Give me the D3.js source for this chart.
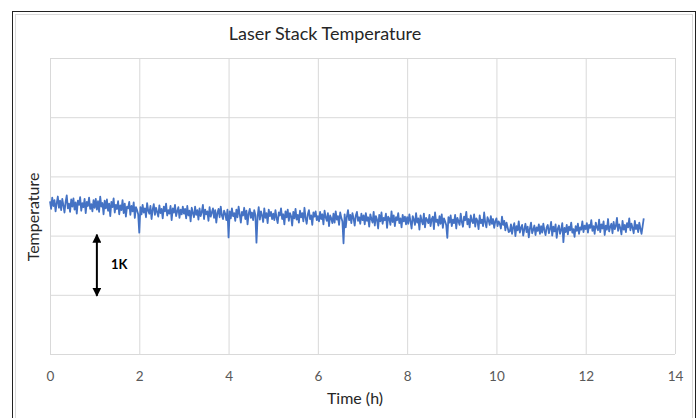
<!DOCTYPE html>
<html>
<head>
<meta charset="utf-8">
<script src="https://cdn.jsdelivr.net/npm/d3@7/dist/d3.min.js"></script>
<style>
  html, body { margin: 0; padding: 0; background: #fff; }
  svg { display: block; }
</style>
</head>
<body>
<svg id="chart" width="700" height="418"></svg>
<script>
// ---- data ----
const title = "Laser Stack Temperature";
const xLabel = "Time (h)";
const yLabel = "Temperature";
const xTicks = [0, 2, 4, 6, 8, 10, 12, 14];
const yGrid = [0, 100, 200, 300, 400, 500];   // gridlines every 1 K (values in 0.01 K), unlabelled
const sampleStep = 0.025;                       // hours between samples
// relative temperature in 0.01 K, one sample every 0.025 h starting at t = 0
const tempCentiK = [
  258,245,264,250,260,241,255,266,247,259,243,262,251,239,257,268,246,254,240,261,
  249,263,244,256,237,259,252,265,242,255,248,262,238,257,250,264,245,253,241,260,
  247,262,244,258,240,266,249,255,236,259,246,261,242,254,233,257,248,263,239,252,
  245,258,236,251,243,260,238,254,232,249,246,257,235,250,241,256,230,248,243,236,
  205,248,236,252,239,246,231,255,242,237,250,228,244,253,235,247,240,232,251,238,
  245,229,249,241,254,234,243,237,250,226,246,239,252,233,241,248,230,244,236,249,
  237,245,229,250,234,242,224,247,238,231,249,235,243,227,246,233,240,252,228,244,
  236,241,225,248,232,239,246,230,243,222,238,245,231,249,234,228,242,237,226,244,
  197,241,229,246,233,238,225,244,231,249,236,222,240,234,247,228,242,219,237,245,
  230,239,226,243,235,188,232,248,227,241,234,223,246,230,238,221,244,233,240,228,
  237,226,243,230,221,239,234,246,228,236,219,241,231,244,225,238,233,217,240,229,
  245,227,235,222,242,231,238,224,247,230,220,236,243,228,234,218,239,232,241,226,
  233,224,240,228,236,219,242,231,225,238,216,234,229,221,237,222,241,227,233,218,
  239,230,224,187,236,214,232,243,226,235,221,238,229,217,234,240,225,231,220,237,
  226,234,219,238,225,231,215,236,228,222,240,217,233,227,212,235,224,239,220,230,
  226,237,213,232,229,218,241,223,234,216,231,226,238,221,229,214,235,224,232,219,
  231,220,236,224,212,233,227,218,238,222,229,210,234,225,219,237,214,230,226,221,
  235,216,228,232,211,239,223,227,217,233,220,236,213,229,224,218,196,231,222,234,
  216,227,221,235,212,230,224,218,237,223,215,232,226,240,219,228,214,234,225,221,
  236,215,229,225,211,234,221,227,216,239,222,214,231,226,218,233,220,228,213,224,
  229,216,224,220,212,232,218,225,209,222,214,206,207,219,203,214,221,199,216,209,
  224,205,213,218,200,211,220,206,215,197,212,222,204,210,217,201,214,208,219,203,
  216,205,220,209,201,214,218,204,211,223,200,215,207,219,196,212,217,203,210,221,
  189,213,206,218,202,215,209,222,205,211,198,216,208,220,203,214,210,224,206,217,
  211,221,205,218,213,226,208,216,203,222,214,209,227,206,219,212,224,201,217,210,
  228,207,215,220,204,223,211,216,230,208,219,213,202,225,210,218,206,221,214,229,
  209,220,213,204,225,211,218,206,222,212,203,216,229
];
const scaleBar = { t: 1.05, from: 100, to: 200, label: "1K" };

// ---- layout ----
const plot = { left: 50, right: 675, top: 58, bottom: 354 };
const FONT = "Lato, 'Open Sans', sans-serif";

const svg = d3.select("#chart");

// chart frame
svg.append("rect").attr("x", 12.5).attr("y", 11.5).attr("width", 683).attr("height", 420)
  .attr("fill", "#fff").attr("stroke", "#222").attr("stroke-width", 1);
svg.append("rect").attr("x", 15.5).attr("y", 14.5).attr("width", 677).attr("height", 420)
  .attr("fill", "none").attr("stroke", "#d9d9d9").attr("stroke-width", 1);

const x = d3.scaleLinear().domain([0, 14]).range([plot.left, plot.right]);
const y = d3.scaleLinear().domain([0, 500]).range([plot.bottom, plot.top]);

// vertical gridlines + x tick labels
const xAxis = svg.append("g")
  .attr("transform", `translate(0,${plot.bottom})`)
  .call(d3.axisBottom(x).tickValues(xTicks).tickSize(-(plot.bottom - plot.top)).tickPadding(17).tickFormat(d3.format("d")));
xAxis.select(".domain").remove();
xAxis.selectAll(".tick line").attr("stroke", "#d9d9d9").attr("stroke-width", 1);
xAxis.selectAll(".tick text").attr("fill", "#595959").style("font-family", FONT).style("font-size", "13.5px");

// horizontal gridlines
const yAxis = svg.append("g")
  .attr("transform", `translate(${plot.left},0)`)
  .call(d3.axisLeft(y).tickValues(yGrid).tickSize(-(plot.right - plot.left)).tickFormat(""));
yAxis.select(".domain").remove();
yAxis.selectAll(".tick line").attr("stroke", "#d9d9d9").attr("stroke-width", 1);

// data line
const data = tempCentiK.map((v, i) => ({ t: i * sampleStep, v }));
svg.append("path")
  .datum(data)
  .attr("fill", "none")
  .attr("stroke", "#4472C4")
  .attr("stroke-width", 1.8)
  .attr("stroke-linejoin", "round")
  .attr("d", d3.line().x(d => x(d.t)).y(d => y(d.v)));

// title & axis labels
svg.append("text").attr("x", 325).attr("y", 40).attr("text-anchor", "middle")
  .attr("fill", "#262626").style("font-family", FONT).style("font-size", "18px").text(title);
svg.append("text").attr("x", 355).attr("y", 404).attr("text-anchor", "middle")
  .attr("fill", "#262626").style("font-family", FONT).style("font-size", "16px").text(xLabel);
svg.append("text").attr("transform", `translate(39,217) rotate(-90)`)
  .attr("text-anchor", "middle")
  .attr("fill", "#262626").style("font-family", FONT).style("font-size", "16px").text(yLabel);

// 1K scale arrow
const defs = svg.append("defs");
defs.append("marker").attr("id", "ah").attr("viewBox", "0 0 10 10").attr("refX", 9).attr("refY", 5)
  .attr("markerWidth", 4.5).attr("markerHeight", 4.5).attr("markerUnits", "strokeWidth").attr("orient", "auto-start-reverse")
  .append("path").attr("d", "M0,0 L10,5 L0,10 z").attr("fill", "#000");
svg.append("line")
  .attr("x1", x(scaleBar.t)).attr("x2", x(scaleBar.t))
  .attr("y1", y(scaleBar.from) + 1).attr("y2", y(scaleBar.to) - 1)
  .attr("stroke", "#000").attr("stroke-width", 2)
  .attr("marker-start", "url(#ah)").attr("marker-end", "url(#ah)");
svg.append("text").attr("x", x(scaleBar.t) + 14).attr("y", y((scaleBar.from + scaleBar.to) / 2) + 4)
  .attr("fill", "#000").style("font-family", FONT).style("font-weight", "bold").style("font-size", "13px")
  .text(scaleBar.label);
</script>
</body>
</html>
